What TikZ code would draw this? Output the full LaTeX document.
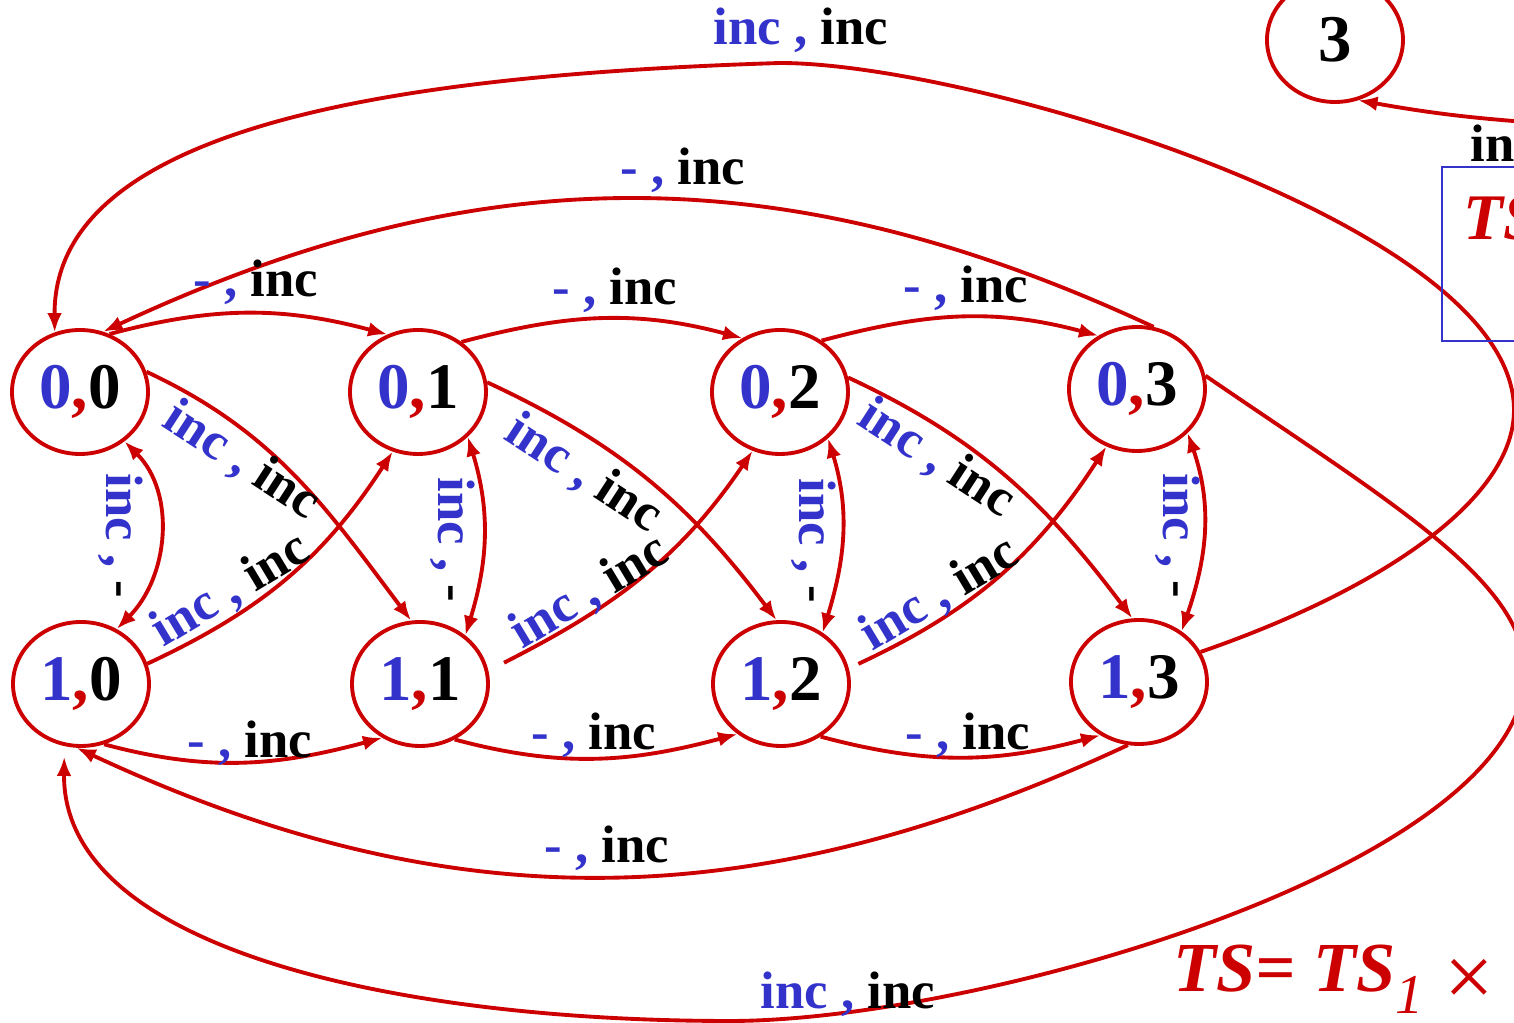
\documentclass[tikz,border=0pt]{standalone}
\usepackage{fontspec}
\setmainfont{Liberation Serif}
\usetikzlibrary{arrows.meta,shapes.geometric}

\definecolor{tsred}{RGB}{204,0,0}
\definecolor{tsblue}{RGB}{51,51,204}

\newcommand{\pairlbl}[2]{\textcolor{tsblue}{#1}\textcolor{tsred}{,}#2}

\tikzset{
    state/.style={ellipse, draw=tsred, line width=1.1pt, minimum width=1.36cm,
        minimum height=1.24cm, inner sep=0pt, font=\fontsize{18.5}{18.5}\selectfont\bfseries},
    trans/.style={draw=tsred, line width=1.1pt, ->},
    act/.style={inner sep=0pt, font=\fontsize{15}{15}\selectfont\bfseries},
    prodlbl/.style={inner sep=0pt, text=tsred, font=\fontsize{20}{20}\selectfont\bfseries\itshape},
}

\begin{document}
\begin{tikzpicture}[>={Latex[length=5.5pt,width=4.2pt]}]
    \useasboundingbox (0,0) rectangle (15.14,-10.23);
    \clip (0,0) rectangle (15.14,-10.23);

    % Vẽ các trạng thái
    \node[state] (s00) at (0.80,-3.92) {\pairlbl{0}{0}};
    \node[state] (s01) at (4.18,-3.92) {\pairlbl{0}{1}};
    \node[state] (s02) at (7.80,-3.92) {\pairlbl{0}{2}};
    \node[state] (s03) at (11.37,-3.89) {\pairlbl{0}{3}};
    \node[state] (s10) at (0.81,-6.84) {\pairlbl{1}{0}};
    \node[state] (s11) at (4.20,-6.84) {\pairlbl{1}{1}};
    \node[state] (s12) at (7.81,-6.84) {\pairlbl{1}{2}};
    \node[state] (s13) at (11.39,-6.82) {\pairlbl{1}{3}};
    \node[state, font=\fontsize{19}{19}\selectfont\bfseries] (three) at (13.35,-0.40) {3};

    % Các cung ngang
    \draw[trans] (s00.63) to[out=15,in=165] (s01.118);
    \draw[trans] (s01.49) to[out=15,in=165] (s02.125);
    \draw[trans] (s02.51) to[out=15,in=165] (s03.126);
    \draw[trans] (s10.-69) to[out=-15,in=-165] (s11.-125);
    \draw[trans] (s11.-58) to[out=-15,in=-165] (s12.-131);
    \draw[trans] (s12.-53) to[out=-15,in=-165] (s13.-126);

    % Các cung dọc
    \draw[trans, <->] (s00.-48) to[out=-45,in=45] (s10.57);
    \draw[trans, <->] (s01.-42) to[out=-73,in=73] (s11.47);
    \draw[trans, <->] (s02.-44) to[out=-73,in=73] (s12.51);
    \draw[trans, <->] (s03.-41) to[out=-71,in=71] (s13.50);

    % Các cung chéo
    \draw[trans] (s00.17) to[out=-25,in=127] (s11.98);
    \draw[trans] (s10.17) to[out=25,in=-123] (s01.-113);
    \draw[trans] (s01.8) to[out=-25,in=127] (s12.94);
    \draw[trans, shorten <=5pt] (s11.11) to[out=27,in=-124] (s02.-115);
    \draw[trans] (s02.12) to[out=-25,in=127] (s13.96);
    \draw[trans, shorten <=3pt] (s12.13) to[out=25,in=-123] (s03.-118);

    % Các cung dài
    \draw[trans] (s03.75) to[out=155,in=25] (s00.69);
    \draw[trans] (s13.-100) to[out=-155,in=-25] (s10.-94);
    \draw[trans] (s13.26) .. controls (13.80,-5.90) and (15.14,-5.00) .. (15.14,-4.10)
        .. controls (15.14,-2.25) and (9.72,-0.63) .. (7.80,-0.63)
        .. controls (4.00,-0.75) and (0.53,-1.25) .. (s00.113);
    \draw[trans, shorten >=3pt] (s03.11) .. controls (13.85,-4.99) and (15.25,-5.80) .. (15.25,-6.72)
        .. controls (15.25,-8.64) and (9.80,-10.21) .. (7.30,-10.21)
        .. controls (4.00,-10.21) and (0.62,-9.50) .. (s10.-105);

    % Cung vào trạng thái 3
    \coordinate (in3) at (15.40,-1.23);
    \draw[trans] (in3) to[out=176,in=-10] (three.-69);

    % Nhãn các cung
    \node[act, anchor=base] (ltop1) at (2.56,-2.97) {\textcolor{tsblue}{- ,} inc};
    \node[act, anchor=base] (ltop2) at (6.15,-3.05) {\textcolor{tsblue}{- ,} inc};
    \node[act, anchor=base] (ltop3) at (9.66,-3.03) {\textcolor{tsblue}{- ,} inc};
    \node[act, anchor=base] (lbot1) at (2.50,-7.58) {\textcolor{tsblue}{- ,} inc};
    \node[act, anchor=base] (lbot2) at (5.94,-7.50) {\textcolor{tsblue}{- ,} inc};
    \node[act, anchor=base] (lbot3) at (9.68,-7.50) {\textcolor{tsblue}{- ,} inc};
    \node[act, anchor=base] (lupper) at (6.83,-1.85) {\textcolor{tsblue}{- ,} inc};
    \node[act, anchor=base] (llower) at (6.07,-8.63) {\textcolor{tsblue}{- ,} inc};
    \node[act, anchor=base] (ltopbig) at (8.01,-0.45) {\textcolor{tsblue}{inc ,} inc};
    \node[act, anchor=base] (lbotbig) at (8.48,-10.09) {\textcolor{tsblue}{inc ,} inc};

    \node[act, anchor=base west, rotate=-90] (lv0) at (1.07,-4.73) {\textcolor{tsblue}{inc ,} -};
    \node[act, anchor=base west, rotate=-90] (lv1) at (4.38,-4.77) {\textcolor{tsblue}{inc ,} -};
    \node[act, anchor=base west, rotate=-90] (lv2) at (8.00,-4.78) {\textcolor{tsblue}{inc ,} -};
    \node[act, anchor=base west, rotate=-90] (lv3) at (11.63,-4.73) {\textcolor{tsblue}{inc ,} -};

    \node[act, anchor=base west, rotate=-33] (ld1) at (1.60,-4.25) {\textcolor{tsblue}{inc ,} inc};
    \node[act, anchor=base west, rotate=31] (ld2) at (1.63,-6.48) {\textcolor{tsblue}{inc ,} inc};
    \node[act, anchor=base west, rotate=-33] (ld3) at (5.02,-4.38) {\textcolor{tsblue}{inc ,} inc};
    \node[act, anchor=base west, rotate=31] (ld4) at (5.22,-6.50) {\textcolor{tsblue}{inc ,} inc};
    \node[act, anchor=base west, rotate=-33] (ld5) at (8.55,-4.23) {\textcolor{tsblue}{inc ,} inc};
    \node[act, anchor=base west, rotate=31] (ld6) at (8.72,-6.52) {\textcolor{tsblue}{inc ,} inc};

    % Khung TS bên phải
    \node[act, anchor=base west] (lin3) at (14.70,-1.62) {inc};
    \draw[tsblue, line width=0.6pt] (14.42,-1.67) rectangle (15.60,-3.41);
    \node[prodlbl, font=\fontsize{18.5}{18.5}\selectfont\bfseries\itshape, anchor=base west] (lts2) at (14.63,-2.40) {TS};

    % Tích
    \node[prodlbl, anchor=base west] (lprod) at (11.73,-9.92)
        {TS= TS\raisebox{-0.3em}{\fontsize{16}{16}\selectfont\mdseries 1}\hspace{0.3em}\raisebox{-0.2em}{\upshape\mdseries\fontsize{25}{25}\selectfont ×}\hspace{0.3em}TS};
\end{tikzpicture}
\end{document}
